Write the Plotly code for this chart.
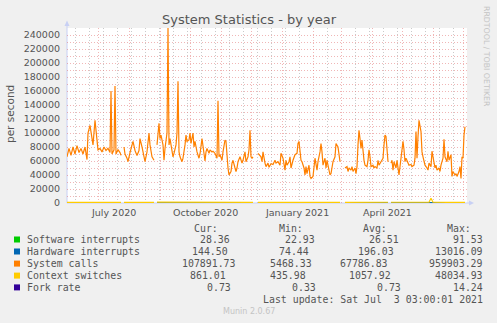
import pandas as pd
import plotly.graph_objects as go

# ---------------------------------------------------------------------------
# Data: daily averages, x given as day offsets from START (None = no data)
# ---------------------------------------------------------------------------
START = pd.Timestamp("2020-05-31")
END = pd.Timestamp("2021-07-05")

syscall_days = [
    0, 2, 4, 6, 8, 10, 12, 14, 16, 18, 20, 21, 23, 25, 26, 28, 30, 31, 33, 35,
    37, 39, 41, 43, 44, 45, 47, 48, 49, 51, 53, 54, 55,
    57, 58, 60, 61, 63, 65, 66, 68, 70, 72, 73, 75, 77, 78, 80, 81, 82, 83, 85, 87, 88,
    90, 92, 93, 94, 96, 97, 98, 100, 101, 102, 103, 104, 106, 107, 109, 110, 111, 112, 113, 115,
    116, 118, 119, 120, 122, 123, 124, 126, 127, 128, 130, 132, 133, 135, 137, 138, 139, 140, 142, 143,
    145, 146, 148, 150, 151, 152, 153, 155, 156, 158, 159, 160, 161, 162, 164, 165, 166, 168, 169, 170,
    171, 173, 175, 176, 178, 179, 181, 182, 183, 184, 185, 186, 188,
    191, 192, 194, 195, 196, 198, 199, 201, 202, 204, 206, 208, 209, 211, 213, 214, 216, 218, 219, 220,
    222, 223, 224, 226, 227, 228, 230, 231, 232, 233, 234, 235, 237, 238, 239, 240, 242, 243, 244, 246,
    247, 248, 250, 251, 253, 254, 255, 256, 258, 259, 260, 262, 263, 264, 266, 268, 269, 271, 272, 273,
    275,
    278, 280, 281, 282, 284, 285, 286, 288, 289, 290, 291, 292, 293, 294, 295, 296, 297, 298, 300, 301,
    302, 303, 304, 306, 307, 308, 310, 311, 312, 314, 316, 317, 318, 319, 320, 321, 322,
    324, 325, 326, 327, 329, 330, 332, 333, 334, 336, 337, 338, 339, 340, 342, 344, 345, 347, 348, 349,
    350, 351, 352, 354, 355, 356, 357, 358, 360, 361, 362, 364, 365, 366, 368, 369, 370, 372, 373, 374,
    376, 377, 378, 380, 381, 382, 384, 385, 386, 388, 389, 390, 392, 393, 394, 395, 396, 397, 398,
]

# system calls per second, in thousands
syscall_k = [
    66, 78, 68, 80, 70, 82, 72, 78, 70, 80, 62, 100, 111, 95, 83, 118, 83, 76, 78, 73,
    80, 75, 78, 72, 160, 70, 76, 167, 70, 76, 72, 68, None,
    80, 70, 64, 59, 72, 85, 88, 75, 68, 75, 92, 80, 64, 59, 73, 88, 100, 83, 66, 61, None,
    83, 114, 92, 97, 83, 61, 78, 100, 250, 83, 92, 85, 66, 71, 83, 100, 174, 73, 66, 59,
    64, 83, 97, 88, 90, 100, 85, 100, 80, 88, 73, 64, 70, 92, 66, 60, 73, 78, 71, 76,
    73, 74, 71, 64, 146, 66, 69, 61, 73, 90, 88, 64, 50, 40, 45, 57, 61, 50, 45, 50,
    59, 66, 57, 61, 73, 59, 66, 76, 104, 66, 64, 66, None,
    71, 69, 66, 59, 73, 57, 52, 57, 51, 56, 55, 61, 57, 59, 54, 71, 64, 47, 61, 54,
    59, 66, 50, 61, 64, 69, 71, 85, 88, 73, 61, 59, 50, 40, 52, 42, 54, 38, 35, 38,
    50, 64, 47, 59, 73, 85, 73, 54, 64, 50, 61, 45, 40, 42, 59, 66, 85, 80, 71, 59,
    None,
    50, 52, 45, 50, 47, 52, 45, 50, 42, 52, 83, 104, 92, 78, 90, 69, 61, 54, 52, 61,
    76, 66, 52, 54, 50, 52, 50, 61, 54, 59, 64, 83, 97, 95, 73, 59, None,
    57, 61, 47, 59, 50, 61, 40, 54, 66, 88, 76, 59, 64, 61, 54, 55, 52, 54, 64, 102,
    64, 95, 118, 102, 73, 66, 59, 54, 50, 47, 57, 52, 74, 64, 50, 54, 47, 50, 45, 54,
    64, 91, 66, 59, 74, 61, 69, 38, 45, 40, 42, 38, 45, 52, 35, 66, 64, 97, 109,
]

# the low-rate series share a coarser sampling
small_days = [0, 20, 40, 54, 55, 57, 87, 88, 90, 120, 150, 186, 188, 191, 230,
              273, 275, 278, 321, 322, 324, 350, 362, 364, 366, 380, 398]
context_switches = [950, 1050, 1100, 980, None, 1000, 1020, None, 1150, 1200, 1050, 980, None, 900, 1000,
                    950, None, 1000, 1100, None, 1050, 1000, 1050, 6700, 1100, 1000, 861]
hardware_irq = [190, 200, 210, 195, None, 200, 205, None, 210, 200, 195, 190, None, 185, 200,
                195, None, 190, 200, None, 195, 190, 200, 230, 200, 190, 144.5]
software_irq = [26, 27, 26, 25, None, 26, 27, None, 26, 27, 26, 26, None, 25, 26,
                27, None, 26, 27, None, 26, 26, 27, 28, 27, 26, 28.36]
fork_rate = [0.7, 0.8, 0.7, 0.7, None, 0.7, 0.8, None, 0.7, 0.7, 0.7, 0.7, None, 0.7, 0.8,
             0.7, None, 0.7, 0.7, None, 0.7, 0.7, 0.8, 1.2, 0.8, 0.7, 0.73]

# legend table
series_names = ["Software interrupts", "Hardware interrupts", "System calls",
                "Context switches", "Fork rate"]
series_colors = ["#00CC00", "#0066B3", "#FF8000", "#FFCC00", "#330099"]
cur_vals = ["28.36", "144.50", "107891.73", "861.01", "0.73"]
min_vals = ["22.93", "74.44", "5468.33", "435.98", "0.33"]
avg_vals = ["26.51", "196.03", "67786.83", "1057.92", "0.73"]
max_vals = ["91.53", "13016.09", "959903.29", "48034.93", "14.24"]

month_labels = ["July 2020", "October 2020", "January 2021", "April 2021"]
month_label_dates = ["2020-07-16", "2020-10-16", "2021-01-16", "2021-04-16"]

# ---------------------------------------------------------------------------
W, H = 497, 323
L, R, T, B = 67, 30, 28, 120
PW, PH = W - L - R, H - T - B
BASE = H - B


def px(x):
    return (x - L) / PW


def py(y):
    return (BASE - y) / PH


def to_dates(days):
    return [START + pd.Timedelta(days=d) for d in days]


syscalls = [v * 1000 if v is not None else None for v in syscall_k]
small_x = to_dates(small_days)

series = {
    "Software interrupts": (small_x, software_irq),
    "Hardware interrupts": (small_x, hardware_irq),
    "System calls": (to_dates(syscall_days), syscalls),
    "Context switches": (small_x, context_switches),
    "Fork rate": (small_x, fork_rate),
}
color_of = dict(zip(series_names, series_colors))

fig = go.Figure()
# baseline series first so the context-switch line stays visible on top
for name in ["Fork rate", "Software interrupts", "Hardware interrupts",
             "System calls", "Context switches"]:
    xs, ys = series[name]
    fig.add_trace(go.Scatter(x=xs, y=ys, name=name, mode="lines",
                             line=dict(color=color_of[name], width=1.2), connectgaps=False,
                             showlegend=False, hoverinfo="skip"))

RED_GRID = "rgba(225,110,110,0.5)"
GREY_GRID = "rgba(180,180,180,0.7)"
TXT = "#555555"

fig.update_layout(
    width=W, height=H,
    margin=dict(l=L, r=R, t=T, b=B, pad=0),
    paper_bgcolor="#F0F0F0", plot_bgcolor="#FFFFFF",
    font=dict(family="DejaVu Sans", size=10, color=TXT),
    xaxis=dict(
        type="date", range=[START, END],
        tick0="2020-06-01", dtick="M1",
        showgrid=True, gridcolor=RED_GRID, griddash="1px,2px", gridwidth=1,
        showticklabels=False, ticks="", showline=False, zeroline=False,
        minor=dict(tick0="2020-06-08", dtick=14 * 86400000, showgrid=True,
                   gridcolor=GREY_GRID, griddash="1px,2px", gridwidth=1, ticks=""),
    ),
    yaxis=dict(
        range=[0, 250000], tick0=0, dtick=20000, tickformat="d",
        showgrid=True, gridcolor=RED_GRID, griddash="1px,2px", gridwidth=1,
        ticks="", showline=False, zeroline=False,
        tickfont=dict(size=9.5, color=TXT), ticklabelstandoff=6,
        minor=dict(dtick=10000, showgrid=True, gridcolor=RED_GRID,
                   griddash="1px,2px", gridwidth=1, ticks=""),
    ),
)

ann = []
shapes = []

# title, axis title, side credits
ann.append(dict(text="System Statistics - by year", x=px(249), y=py(19),
                font=dict(size=13, color=TXT)))
ann.append(dict(text="per second", x=px(10), y=py(114), textangle=-90,
                font=dict(size=10.5, color=TXT)))
ann.append(dict(text="RRDTOOL / TOBI OETIKER", x=px(487), y=py(56), textangle=90,
                font=dict(size=7.8, color="#C4C4C4")))
ann.append(dict(text="Munin 2.0.67", x=px(248.5), y=py(311.5),
                font=dict(size=8, color="#C4C4C4")))

# month labels along the time axis
for lab, d in zip(month_labels, month_label_dates):
    ann.append(dict(text=lab, x=d, xref="x", y=py(212), font=dict(size=9.5, color=TXT)))

# legend table
MONO = dict(family="DejaVu Sans Mono", size=9.9, color=TXT)
header_y = 228.3
row_y = [239.5, 251.5, 263.6, 275.6, 287.4]
for txt, x0 in zip(["Cur:", "Min:", "Avg:", "Max:"], [194.3, 279, 362.7, 446.7]):
    ann.append(dict(text=txt, x=px(x0), y=py(header_y), xanchor="left", font=MONO))

cur_x = [200, 191.7, 181.7, 190, 206.7]
min_x = [285, 279.3, 270, 270, 291.7]
avg_x = [369, 358.3, 340, 349.3, 376.7]
for i, (name, col) in enumerate(zip(series_names, series_colors)):
    yc = row_y[i]
    shapes.append(dict(type="rect", xref="paper", yref="paper",
                       x0=px(14), x1=px(20), y0=py(yc + 3), y1=py(yc - 3),
                       fillcolor=col, line=dict(width=0), layer="above"))
    ann.append(dict(text=name, x=px(26.7), y=py(yc), xanchor="left", font=MONO))
    ann.append(dict(text=cur_vals[i], x=px(cur_x[i]), y=py(yc), xanchor="left", font=MONO))
    ann.append(dict(text=min_vals[i], x=px(min_x[i]), y=py(yc), xanchor="left", font=MONO))
    ann.append(dict(text=avg_vals[i], x=px(avg_x[i]), y=py(yc), xanchor="left", font=MONO))
    ann.append(dict(text=max_vals[i], x=px(482.5), y=py(yc), xanchor="right", font=MONO))

ann.append(dict(text="Last update: Sat Jul\u00a0\u00a03 03:00:01 2021", x=px(482.5), y=py(299),
                xanchor="right", font=MONO))

for a in ann:
    a.setdefault("xref", "paper")
    a.setdefault("yref", "paper")
    a.setdefault("xanchor", "center")
    a.setdefault("yanchor", "middle")
    a.update(showarrow=False, borderpad=0, borderwidth=0)

# axis lines with arrow heads
AXIS = "#C8D0F4"
shapes += [
    dict(type="line", xref="paper", yref="paper", x0=px(67), x1=px(67), y0=py(BASE), y1=py(26),
         line=dict(color=AXIS, width=1), layer="below"),
    dict(type="path", xref="paper", yref="paper",
         path=f"M {px(64.5)},{py(26)} L {px(69.5)},{py(26)} L {px(67)},{py(20.5)} Z",
         fillcolor=AXIS, line=dict(width=0)),
    dict(type="line", xref="paper", yref="paper", x0=px(67), x1=px(469), y0=py(BASE), y1=py(BASE),
         line=dict(color=AXIS, width=1), layer="below"),
    dict(type="path", xref="paper", yref="paper",
         path=f"M {px(469)},{py(200.5)} L {px(469)},{py(205.5)} L {px(474)},{py(BASE)} Z",
         fillcolor=AXIS, line=dict(width=0)),
]

fig.update_layout(annotations=ann, shapes=shapes)
fig.write_html("out.html")
